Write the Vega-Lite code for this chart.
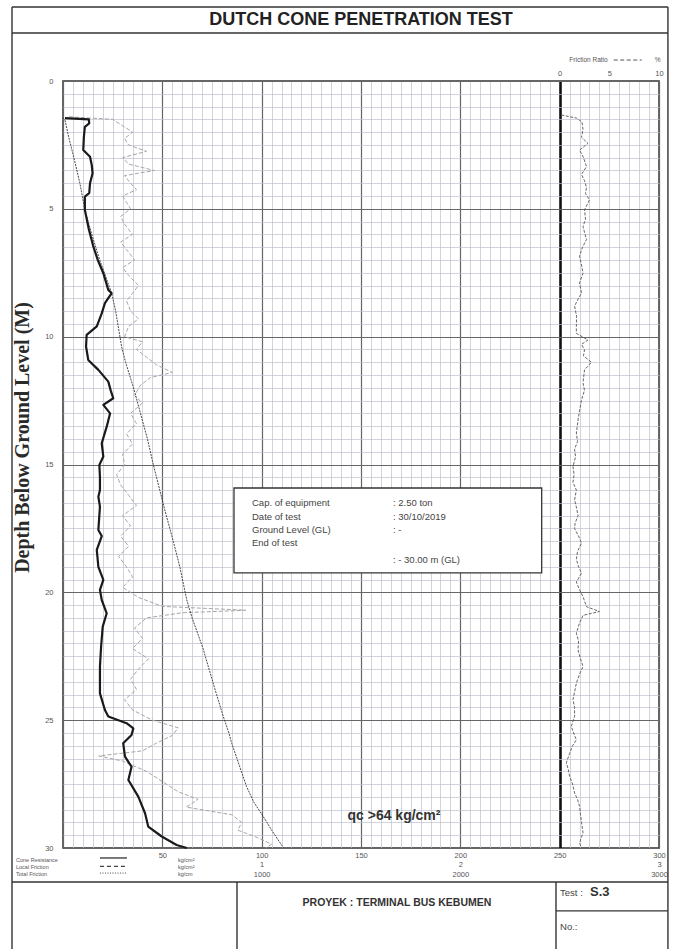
{
  "$schema": "https://vega.github.io/schema/vega-lite/v6.json",
  "width": 596,
  "height": 767,
  "autosize": "none",
  "padding": {"left": 63, "top": 81, "right": 14, "bottom": 101},
  "background": "white",
  "config": {
    "view": {"stroke": "#333", "strokeWidth": 1.5},
    "text": {"font": "Liberation Sans"}
  },
  "datasets": {
    "qc": [
      {"d":1.45,"qc":1},{"d":1.5,"qc":13},{"d":1.66,"qc":13.2},{"d":1.79,"qc":11},{"d":2.2,"qc":10.5},{"d":2.7,"qc":10.2},{"d":2.96,"qc":13.6},{"d":3.3,"qc":14.5},{"d":3.61,"qc":14.9},{"d":4.0,"qc":13.6},{"d":4.39,"qc":13.2},{"d":4.52,"qc":11},{"d":5.04,"qc":11},{"d":5.8,"qc":13},{"d":6.48,"qc":15.3},{"d":7.0,"qc":17.5},{"d":7.52,"qc":20.3},{"d":8.17,"qc":22.8},{"d":8.3,"qc":24.5},{"d":8.69,"qc":21.1},{"d":9.09,"qc":19.5},{"d":9.6,"qc":17},{"d":9.93,"qc":11.9},{"d":10.39,"qc":11.6},{"d":10.52,"qc":11.9},{"d":10.91,"qc":12.7},{"d":11.3,"qc":17.8},{"d":11.76,"qc":22.8},{"d":12.1,"qc":24},{"d":12.41,"qc":25.3},{"d":12.67,"qc":20.3},{"d":13.0,"qc":23.7},{"d":13.52,"qc":22},{"d":14.17,"qc":19.5},{"d":14.69,"qc":20.3},{"d":15.02,"qc":18.3},{"d":15.5,"qc":18.6},{"d":16.0,"qc":18.6},{"d":16.26,"qc":17.8},{"d":16.65,"qc":18.6},{"d":17.1,"qc":18.2},{"d":17.56,"qc":17.8},{"d":17.8,"qc":19.5},{"d":18.34,"qc":17},{"d":19.0,"qc":17.8},{"d":19.51,"qc":20.3},{"d":19.9,"qc":18.6},{"d":20.3,"qc":19.5},{"d":20.82,"qc":22},{"d":21.34,"qc":20},{"d":22.1,"qc":19.2},{"d":22.9,"qc":18.6},{"d":23.95,"qc":18.6},{"d":24.6,"qc":21.1},{"d":24.86,"qc":22.8},{"d":25.12,"qc":32},{"d":25.32,"qc":35.4},{"d":25.58,"qc":34.5},{"d":25.9,"qc":30.3},{"d":26.43,"qc":31.2},{"d":26.82,"qc":34.5},{"d":27.34,"qc":32.9},{"d":27.99,"qc":37.9},{"d":28.64,"qc":41.3},{"d":29.16,"qc":42.9},{"d":29.55,"qc":49.7},{"d":29.88,"qc":57.2},{"d":30.0,"qc":62.3}
    ],
    "tf": [
      {"d":1.45,"tf":0},{"d":1.53,"tf":10},{"d":2.24,"tf":30},{"d":3.0,"tf":55},{"d":4.0,"tf":85},{"d":5.04,"tf":110},{"d":6.0,"tf":145},{"d":7.0,"tf":185},{"d":8.3,"tf":245},{"d":9.0,"tf":265},{"d":10.39,"tf":295},{"d":11.0,"tf":315},{"d":12.0,"tf":355},{"d":13.0,"tf":390},{"d":14.0,"tf":425},{"d":15.02,"tf":455},{"d":16.0,"tf":487},{"d":17.0,"tf":520},{"d":18.0,"tf":555},{"d":19.0,"tf":588},{"d":20.3,"tf":623},{"d":21.0,"tf":650},{"d":22.2,"tf":705},{"d":23.0,"tf":735},{"d":24.0,"tf":773},{"d":24.86,"tf":807},{"d":25.5,"tf":835},{"d":25.9,"tf":849},{"d":26.6,"tf":880},{"d":27.6,"tf":924},{"d":28.2,"tf":960},{"d":28.77,"tf":1008},{"d":29.3,"tf":1050},{"d":29.88,"tf":1100},{"d":30.0,"tf":1110}
    ],
    "lf": [
      {"d":1.4,"lf":0.03},{"d":1.5,"lf":0.25},{"d":1.75,"lf":0.3},{"d":2.0,"lf":0.35},{"d":2.25,"lf":0.31},{"d":2.5,"lf":0.33},{"d":2.75,"lf":0.42},{"d":3.0,"lf":0.3},{"d":3.25,"lf":0.33},{"d":3.5,"lf":0.46},{"d":3.7,"lf":0.31},{"d":4.0,"lf":0.34},{"d":4.25,"lf":0.37},{"d":4.5,"lf":0.3},{"d":4.75,"lf":0.32},{"d":5.0,"lf":0.34},{"d":5.3,"lf":0.29},{"d":5.6,"lf":0.31},{"d":6.0,"lf":0.35},{"d":6.3,"lf":0.29},{"d":6.6,"lf":0.32},{"d":7.0,"lf":0.36},{"d":7.3,"lf":0.3},{"d":7.6,"lf":0.33},{"d":8.0,"lf":0.38},{"d":8.3,"lf":0.35},{"d":8.6,"lf":0.32},{"d":9.0,"lf":0.34},{"d":9.3,"lf":0.38},{"d":9.6,"lf":0.33},{"d":10.0,"lf":0.31},{"d":10.2,"lf":0.4},{"d":10.5,"lf":0.37},{"d":10.8,"lf":0.42},{"d":11.1,"lf":0.47},{"d":11.4,"lf":0.55},{"d":11.6,"lf":0.44},{"d":11.9,"lf":0.39},{"d":12.3,"lf":0.36},{"d":12.6,"lf":0.4},{"d":13.0,"lf":0.34},{"d":13.4,"lf":0.37},{"d":13.8,"lf":0.32},{"d":14.2,"lf":0.35},{"d":14.6,"lf":0.3},{"d":15.0,"lf":0.31},{"d":15.4,"lf":0.27},{"d":15.8,"lf":0.29},{"d":16.2,"lf":0.33},{"d":16.6,"lf":0.37},{"d":17.0,"lf":0.3},{"d":17.4,"lf":0.34},{"d":17.8,"lf":0.29},{"d":18.2,"lf":0.33},{"d":18.6,"lf":0.28},{"d":19.0,"lf":0.32},{"d":19.4,"lf":0.35},{"d":19.8,"lf":0.3},{"d":20.2,"lf":0.38},{"d":20.55,"lf":0.5},{"d":20.7,"lf":0.92},{"d":20.8,"lf":0.6},{"d":21.0,"lf":0.42},{"d":21.4,"lf":0.36},{"d":21.8,"lf":0.4},{"d":22.2,"lf":0.35},{"d":22.6,"lf":0.43},{"d":23.0,"lf":0.38},{"d":23.4,"lf":0.34},{"d":23.8,"lf":0.37},{"d":24.2,"lf":0.31},{"d":24.6,"lf":0.35},{"d":25.0,"lf":0.45},{"d":25.3,"lf":0.58},{"d":25.6,"lf":0.55},{"d":25.9,"lf":0.47},{"d":26.2,"lf":0.4},{"d":26.4,"lf":0.18},{"d":26.6,"lf":0.3},{"d":27.0,"lf":0.42},{"d":27.4,"lf":0.5},{"d":27.8,"lf":0.58},{"d":28.1,"lf":0.68},{"d":28.4,"lf":0.62},{"d":28.7,"lf":0.85},{"d":29.0,"lf":0.9},{"d":29.3,"lf":0.88},{"d":29.6,"lf":0.98},{"d":29.85,"lf":1.05},{"d":30.0,"lf":1.02}
    ],
    "fr": [
      {"d":1.33,"fr":0.17},{"d":1.45,"fr":1.68},{"d":1.6,"fr":2.25},{"d":1.9,"fr":2.35},{"d":2.2,"fr":2.2},{"d":2.44,"fr":2.85},{"d":2.7,"fr":2.0},{"d":3.0,"fr":2.4},{"d":3.35,"fr":2.7},{"d":3.65,"fr":2.2},{"d":3.9,"fr":2.5},{"d":4.17,"fr":2.7},{"d":4.4,"fr":2.6},{"d":4.65,"fr":3.0},{"d":5.04,"fr":2.5},{"d":5.4,"fr":2.6},{"d":5.7,"fr":2.35},{"d":6.2,"fr":2.7},{"d":6.5,"fr":2.3},{"d":6.85,"fr":2.0},{"d":7.2,"fr":2.2},{"d":7.52,"fr":2.35},{"d":7.9,"fr":2.0},{"d":8.3,"fr":2.2},{"d":8.5,"fr":1.9},{"d":8.8,"fr":1.5},{"d":9.2,"fr":1.7},{"d":9.6,"fr":1.68},{"d":9.87,"fr":1.68},{"d":10.13,"fr":2.85},{"d":10.3,"fr":2.2},{"d":10.52,"fr":2.5},{"d":10.75,"fr":2.4},{"d":11.0,"fr":3.2},{"d":11.3,"fr":2.5},{"d":11.8,"fr":2.35},{"d":12.1,"fr":2.5},{"d":12.47,"fr":2.2},{"d":12.9,"fr":2.0},{"d":13.25,"fr":1.85},{"d":13.77,"fr":1.68},{"d":14.1,"fr":1.8},{"d":14.4,"fr":1.5},{"d":14.7,"fr":1.6},{"d":15.08,"fr":1.34},{"d":15.4,"fr":1.45},{"d":15.7,"fr":1.34},{"d":16.0,"fr":1.68},{"d":16.39,"fr":1.5},{"d":16.7,"fr":1.7},{"d":17.0,"fr":1.85},{"d":17.3,"fr":1.55},{"d":17.5,"fr":1.5},{"d":17.8,"fr":1.9},{"d":18.07,"fr":2.2},{"d":18.4,"fr":1.8},{"d":18.7,"fr":1.68},{"d":19.0,"fr":1.9},{"d":19.25,"fr":2.2},{"d":19.6,"fr":1.68},{"d":19.9,"fr":2.0},{"d":20.17,"fr":2.35},{"d":20.56,"fr":2.7},{"d":20.75,"fr":4.0},{"d":20.9,"fr":2.35},{"d":21.2,"fr":2.0},{"d":21.6,"fr":1.68},{"d":21.9,"fr":1.9},{"d":22.25,"fr":1.85},{"d":22.6,"fr":2.1},{"d":22.9,"fr":2.35},{"d":23.2,"fr":2.0},{"d":23.55,"fr":1.68},{"d":23.9,"fr":1.5},{"d":24.2,"fr":1.34},{"d":24.5,"fr":1.5},{"d":24.85,"fr":1.5},{"d":25.25,"fr":1.17},{"d":25.5,"fr":1.4},{"d":25.77,"fr":1.68},{"d":26.0,"fr":1.3},{"d":26.3,"fr":1.0},{"d":26.67,"fr":0.67},{"d":26.9,"fr":0.85},{"d":27.2,"fr":1.0},{"d":27.5,"fr":1.3},{"d":27.85,"fr":1.5},{"d":28.1,"fr":1.8},{"d":28.37,"fr":2.0},{"d":28.7,"fr":2.1},{"d":29.0,"fr":2.2},{"d":29.4,"fr":2.35},{"d":29.8,"fr":2.0},{"d":30.0,"fr":2.2}
    ],
    "frame": [
      {"x":-25.67,"x2":304.5,"y":-2.894,"y2":-2.894},
      {"x":-25.67,"x2":304.5,"y":-1.877,"y2":-1.877},
      {"x":-25.67,"x2":-25.67,"y":-2.894,"y2":33.95},
      {"x":304.5,"x2":304.5,"y":-2.894,"y2":33.95},
      {"x":-25.67,"x2":304.5,"y":31.33,"y2":31.33},
      {"x":87.58,"x2":87.58,"y":31.33,"y2":33.95},
      {"x":248.15,"x2":248.15,"y":31.33,"y2":33.95},
      {"x":248.15,"x2":304.5,"y":32.46,"y2":32.46}
    ]
  },
  "resolve": {"scale": {"x": "independent"}, "axis": {"x": "independent", "y": "independent"}},
  "layer": [
    {
      "data": {"name": "qc"},
      "mark": {"type": "line", "color": "#1a1a1a", "strokeWidth": 2.2, "strokeJoin": "round", "opacity": 0},
      "encoding": {
        "x": {"field": "qc", "type": "quantitative", "scale": {"domain": [0, 300], "nice": false, "zero": false},
          "axis": {"orient": "bottom", "title": null,
            "values": [0,5,10,15,20,25,30,35,40,45,50,55,60,65,70,75,80,85,90,95,100,105,110,115,120,125,130,135,140,145,150,155,160,165,170,175,180,185,190,195,200,205,210,215,220,225,230,235,240,245,250,255,260,265,270,275,280,285,290,295,300],
            "grid": true,
            "gridColor": {"condition": [{"test": "datum.value === 250", "value": "#111"}, {"test": "datum.value % 50 === 0", "value": "#666"}], "value": "#bfc2cf"},
            "gridWidth": {"condition": [{"test": "datum.value === 250", "value": 2.6}, {"test": "datum.value % 50 === 0", "value": 1.2}], "value": 0.7},
            "domain": false, "ticks": false,
            "labelExpr": "datum.value % 50 === 0 && datum.value > 0 ? format(datum.value, 'd') : ''",
            "labelFlush": false, "labelOverlap": false, "labelPadding": 3,
            "labelFont": "Liberation Sans", "labelFontSize": 7.5, "labelColor": "#555"}},
        "y": {"field": "d", "type": "quantitative", "scale": {"domain": [0, 30], "nice": false, "zero": false, "reverse": true},
          "axis": {"title": "Depth Below Ground Level (M)", "orient": "left",
            "values": [0,0.5,1,1.5,2,2.5,3,3.5,4,4.5,5,5.5,6,6.5,7,7.5,8,8.5,9,9.5,10,10.5,11,11.5,12,12.5,13,13.5,14,14.5,15,15.5,16,16.5,17,17.5,18,18.5,19,19.5,20,20.5,21,21.5,22,22.5,23,23.5,24,24.5,25,25.5,26,26.5,27,27.5,28,28.5,29,29.5,30],
            "grid": true,
            "gridColor": {"condition": {"test": "datum.value % 5 === 0", "value": "#666"}, "value": "#bfc2cf"},
            "gridWidth": {"condition": {"test": "datum.value % 5 === 0", "value": 1.2}, "value": 0.7},
            "domain": false, "ticks": false,
            "labelExpr": "datum.value % 5 === 0 ? format(datum.value, 'd') : ''",
            "labelOverlap": false, "labelPadding": 10,
            "labelFont": "Liberation Sans", "labelFontSize": 7.5, "labelColor": "#555",
            "titleFont": "Liberation Serif", "titleFontSize": 20, "titleFontWeight": "bold", "titleColor": "#2a2a2a",
            "titleX": -41, "titleY": 356, "titleAngle": -90, "titleBaseline": "middle", "titleAlign": "center"}},
        "order": {"field": "d"}
      }
    },
    {
      "data": {"name": "lf"},
      "mark": {"type": "line", "color": "#a6a6a6", "strokeWidth": 1, "strokeDash": [4, 2]},
      "encoding": {
        "x": {"field": "lf", "type": "quantitative", "scale": {"domain": [0, 3], "nice": false, "zero": false},
          "axis": {"orient": "bottom", "values": [1, 2, 3], "title": null, "grid": false, "domain": false, "ticks": false, "labelFlush": false, "offset": 9.5, "labelPadding": 3, "labelFont": "Liberation Sans", "labelFontSize": 7.5, "labelColor": "#555"}},
        "y": {"field": "d", "type": "quantitative", "scale": {"domain": [0, 30], "nice": false, "zero": false, "reverse": true}, "axis": null},
        "order": {"field": "d"}
      }
    },
    {
      "data": {"name": "tf"},
      "mark": {"type": "line", "color": "#333", "strokeWidth": 0.9, "strokeDash": [2, 1]},
      "encoding": {
        "x": {"field": "tf", "type": "quantitative", "scale": {"domain": [0, 3000], "nice": false, "zero": false},
          "axis": {"orient": "bottom", "values": [1000, 2000, 3000], "format": "d", "title": null, "grid": false, "domain": false, "ticks": false, "labelFlush": false, "offset": 19, "labelPadding": 3, "labelFont": "Liberation Sans", "labelFontSize": 7.5, "labelColor": "#555"}},
        "y": {"field": "d", "type": "quantitative", "scale": {"domain": [0, 30], "nice": false, "zero": false, "reverse": true}, "axis": null},
        "order": {"field": "d"}
      }
    },
    {
      "data": {"name": "qc"},
      "mark": {"type": "line", "color": "#1a1a1a", "strokeWidth": 2.2, "strokeJoin": "round"},
      "encoding": {
        "x": {"field": "qc", "type": "quantitative", "scale": {"domain": [0, 300], "nice": false, "zero": false}, "axis": null},
        "y": {"field": "d", "type": "quantitative", "scale": {"domain": [0, 30], "nice": false, "zero": false, "reverse": true}, "axis": null},
        "order": {"field": "d"}
      }
    },
    {
      "data": {"name": "frame"},
      "mark": {"type": "rule", "color": "#333", "strokeWidth": 1.4},
      "encoding": {
        "x": {"field": "x", "type": "quantitative", "scale": {"domain": [0, 300], "nice": false, "zero": false}, "axis": null},
        "x2": {"field": "x2"},
        "y": {"field": "y", "type": "quantitative", "scale": {"domain": [0, 30], "nice": false, "zero": false, "reverse": true}, "axis": null},
        "y2": {"field": "y2"}
      }
    },
    {
      "data": {"values": [{"x": 86.07, "x2": 240.95, "y": 15.92, "y2": 19.24}]},
      "mark": {"type": "rect", "fill": "white", "stroke": "#333", "strokeWidth": 1.3},
      "encoding": {
        "x": {"field": "x", "type": "quantitative", "scale": {"domain": [0, 300], "nice": false, "zero": false}, "axis": null},
        "x2": {"field": "x2"},
        "y": {"field": "y", "type": "quantitative", "scale": {"domain": [0, 30], "nice": false, "zero": false, "reverse": true}, "axis": null},
        "y2": {"field": "y2"}
      }
    },
    {
      "data": {"values": [
        {"x": 95.13, "d": 16.5, "t": "Cap. of equipment"},
        {"x": 95.13, "d": 17.05, "t": "Date of test"},
        {"x": 95.13, "d": 17.56, "t": "Ground Level (GL)"},
        {"x": 95.13, "d": 18.07, "t": "End of test"},
        {"x": 166.1, "d": 16.5, "t": ": 2.50 ton"},
        {"x": 166.1, "d": 17.05, "t": ": 30/10/2019"},
        {"x": 166.1, "d": 17.56, "t": ":  -"},
        {"x": 166.1, "d": 18.73, "t": ": - 30.00  m (GL)"}
      ]},
      "mark": {"type": "text", "align": "left", "baseline": "middle", "fontSize": 9.5, "color": "#444"},
      "encoding": {
        "x": {"field": "x", "type": "quantitative", "scale": {"domain": [0, 300], "nice": false, "zero": false}, "axis": null},
        "y": {"field": "d", "type": "quantitative", "scale": {"domain": [0, 30], "nice": false, "zero": false, "reverse": true}, "axis": null},
        "text": {"field": "t"}
      }
    },
    {
      "data": {"values": [{"x": 150, "d": -2.386, "t": "DUTCH CONE PENETRATION TEST"}]},
      "mark": {"type": "text", "align": "center", "baseline": "middle", "fontSize": 18, "fontWeight": "bold", "color": "#222"},
      "encoding": {
        "x": {"field": "x", "type": "quantitative", "scale": {"domain": [0, 300], "nice": false, "zero": false}, "axis": null},
        "y": {"field": "d", "type": "quantitative", "scale": {"domain": [0, 30], "nice": false, "zero": false, "reverse": true}, "axis": null},
        "text": {"field": "t"}
      }
    },
    {
      "data": {"values": [{"x": 166.6, "d": 28.75, "t": "qc >64 kg/cm²"}]},
      "mark": {"type": "text", "align": "center", "baseline": "middle", "fontSize": 14, "fontWeight": "bold", "color": "#333"},
      "encoding": {
        "x": {"field": "x", "type": "quantitative", "scale": {"domain": [0, 300], "nice": false, "zero": false}, "axis": null},
        "y": {"field": "d", "type": "quantitative", "scale": {"domain": [0, 30], "nice": false, "zero": false, "reverse": true}, "axis": null},
        "text": {"field": "t"}
      }
    },
    {
      "data": {"values": [
        {"x": -23.66, "d": 30.47, "t": "Cone Resistance"},
        {"x": -23.66, "d": 30.74, "t": "Local Friction"},
        {"x": -23.66, "d": 31.0, "t": "Total Friction"},
        {"x": 57.9, "d": 30.47, "t": "kg/cm²"},
        {"x": 57.9, "d": 30.74, "t": "kg/cm²"},
        {"x": 57.9, "d": 31.0, "t": "kg/cm"}
      ]},
      "mark": {"type": "text", "align": "left", "baseline": "middle", "fontSize": 5.5, "color": "#555"},
      "encoding": {
        "x": {"field": "x", "type": "quantitative", "scale": {"domain": [0, 300], "nice": false, "zero": false}, "axis": null},
        "y": {"field": "d", "type": "quantitative", "scale": {"domain": [0, 30], "nice": false, "zero": false, "reverse": true}, "axis": null},
        "text": {"field": "t"}
      }
    },
    {
      "data": {"values": [{"x": 18.6, "x2": 32.2, "d": 30.39}]},
      "mark": {"type": "rule", "color": "#333", "strokeWidth": 1.3},
      "encoding": {
        "x": {"field": "x", "type": "quantitative", "scale": {"domain": [0, 300], "nice": false, "zero": false}, "axis": null},
        "x2": {"field": "x2"},
        "y": {"field": "d", "type": "quantitative", "scale": {"domain": [0, 30], "nice": false, "zero": false, "reverse": true}, "axis": null}
      }
    },
    {
      "data": {"values": [{"x": 18.6, "x2": 32.2, "d": 30.72}]},
      "mark": {"type": "rule", "color": "#444", "strokeWidth": 1.2, "strokeDash": [4, 3]},
      "encoding": {
        "x": {"field": "x", "type": "quantitative", "scale": {"domain": [0, 300], "nice": false, "zero": false}, "axis": null},
        "x2": {"field": "x2"},
        "y": {"field": "d", "type": "quantitative", "scale": {"domain": [0, 30], "nice": false, "zero": false, "reverse": true}, "axis": null}
      }
    },
    {
      "data": {"values": [{"x": 18.6, "x2": 32.2, "d": 30.98}]},
      "mark": {"type": "rule", "color": "#444", "strokeWidth": 1, "strokeDash": [1, 1.5]},
      "encoding": {
        "x": {"field": "x", "type": "quantitative", "scale": {"domain": [0, 300], "nice": false, "zero": false}, "axis": null},
        "x2": {"field": "x2"},
        "y": {"field": "d", "type": "quantitative", "scale": {"domain": [0, 30], "nice": false, "zero": false, "reverse": true}, "axis": null}
      }
    },
    {
      "data": {"values": [{"x": 168.1, "d": 32.15, "t": "PROYEK : TERMINAL BUS KEBUMEN"}]},
      "mark": {"type": "text", "align": "center", "baseline": "middle", "fontSize": 10.5, "fontWeight": "bold", "color": "#333"},
      "encoding": {
        "x": {"field": "x", "type": "quantitative", "scale": {"domain": [0, 300], "nice": false, "zero": false}, "axis": null},
        "y": {"field": "d", "type": "quantitative", "scale": {"domain": [0, 30], "nice": false, "zero": false, "reverse": true}, "axis": null},
        "text": {"field": "t"}
      }
    },
    {
      "data": {"values": [{"x": 250.2, "d": 31.76, "t": "Test :"}, {"x": 250.2, "d": 33.09, "t": "No.:"}]},
      "mark": {"type": "text", "align": "left", "baseline": "middle", "fontSize": 9.5, "color": "#444"},
      "encoding": {
        "x": {"field": "x", "type": "quantitative", "scale": {"domain": [0, 300], "nice": false, "zero": false}, "axis": null},
        "y": {"field": "d", "type": "quantitative", "scale": {"domain": [0, 30], "nice": false, "zero": false, "reverse": true}, "axis": null},
        "text": {"field": "t"}
      }
    },
    {
      "data": {"values": [{"x": 265.3, "d": 31.74, "t": "S.3"}]},
      "mark": {"type": "text", "align": "left", "baseline": "middle", "fontSize": 13, "fontWeight": "bold", "color": "#333"},
      "encoding": {
        "x": {"field": "x", "type": "quantitative", "scale": {"domain": [0, 300], "nice": false, "zero": false}, "axis": null},
        "y": {"field": "d", "type": "quantitative", "scale": {"domain": [0, 30], "nice": false, "zero": false, "reverse": true}, "axis": null},
        "text": {"field": "t"}
      }
    },
    {
      "data": {"name": "fr"},
      "mark": {"type": "line", "color": "#555", "strokeWidth": 0.9, "strokeDash": [3, 1.5]},
      "encoding": {
        "x": {"field": "fr", "type": "quantitative", "scale": {"domain": [-50, 10], "nice": false, "zero": false},
          "axis": {"orient": "top", "values": [0, 5, 10], "title": null, "grid": false, "domain": false, "ticks": false, "labelFlush": false, "labelPadding": 4, "labelFont": "Liberation Sans", "labelFontSize": 7.5, "labelColor": "#555"}},
        "y": {"field": "d", "type": "quantitative", "scale": {"domain": [0, 30], "nice": false, "zero": false, "reverse": true}, "axis": null},
        "order": {"field": "d"}
      }
    },
    {
      "data": {"values": [{"x": 4.83, "d": -0.82, "t": "Friction Ratio"}]},
      "mark": {"type": "text", "align": "right", "baseline": "middle", "fontSize": 6.5, "color": "#555"},
      "encoding": {
        "x": {"field": "x", "type": "quantitative", "scale": {"domain": [-50, 10], "nice": false, "zero": false}, "axis": null},
        "y": {"field": "d", "type": "quantitative", "scale": {"domain": [0, 30], "nice": false, "zero": false, "reverse": true}, "axis": null},
        "text": {"field": "t"}
      }
    },
    {
      "data": {"values": [{"x": 9.87, "d": -0.82, "t": "%"}]},
      "mark": {"type": "text", "align": "center", "baseline": "middle", "fontSize": 6.5, "color": "#555"},
      "encoding": {
        "x": {"field": "x", "type": "quantitative", "scale": {"domain": [-50, 10], "nice": false, "zero": false}, "axis": null},
        "y": {"field": "d", "type": "quantitative", "scale": {"domain": [0, 30], "nice": false, "zero": false, "reverse": true}, "axis": null},
        "text": {"field": "t"}
      }
    },
    {
      "data": {"values": [{"x": 5.44, "x2": 8.26, "d": -0.82}]},
      "mark": {"type": "rule", "color": "#555", "strokeWidth": 1, "strokeDash": [4, 2.5]},
      "encoding": {
        "x": {"field": "x", "type": "quantitative", "scale": {"domain": [-50, 10], "nice": false, "zero": false}, "axis": null},
        "x2": {"field": "x2"},
        "y": {"field": "d", "type": "quantitative", "scale": {"domain": [0, 30], "nice": false, "zero": false, "reverse": true}, "axis": null}
      }
    }
  ]
}
